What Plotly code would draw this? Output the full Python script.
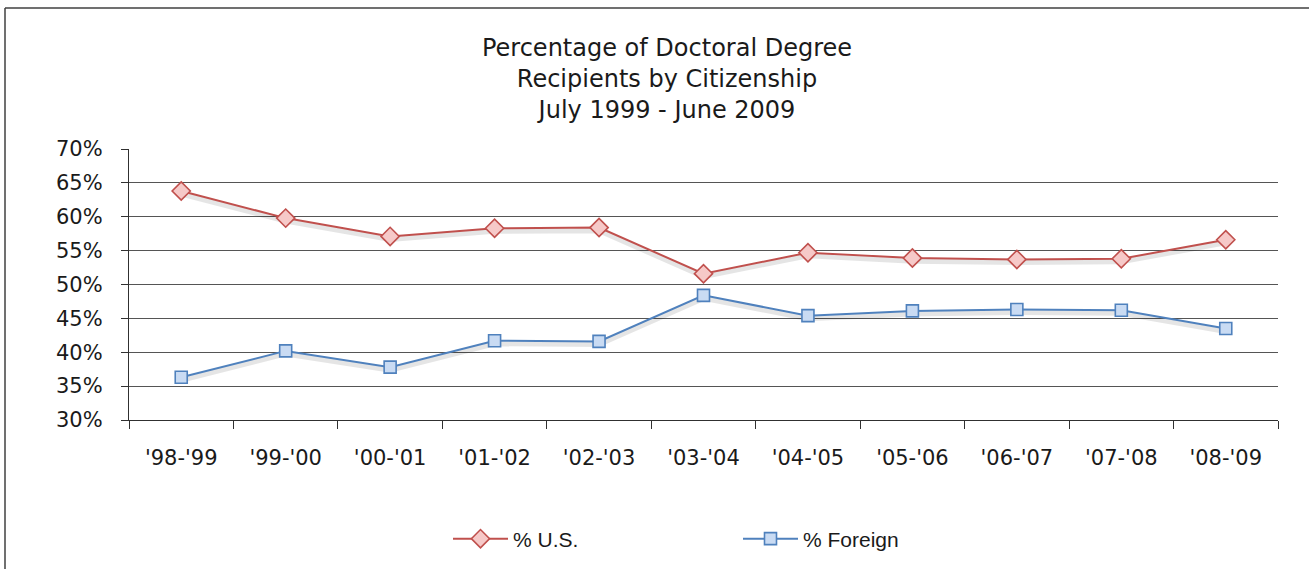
import plotly.graph_objects as go

years = ["'98-'99", "'99-'00", "'00-'01", "'01-'02", "'02-'03", "'03-'04",
         "'04-'05", "'05-'06", "'06-'07", "'07-'08", "'08-'09"]
pct_us = [63.8, 59.8, 57.1, 58.3, 58.4, 51.6, 54.7, 53.9, 53.7, 53.8, 56.6]
pct_foreign = [36.3, 40.2, 37.8, 41.7, 41.6, 48.4, 45.4, 46.1, 46.3, 46.2, 43.5]

y_ticks = [30, 35, 40, 45, 50, 55, 60, 65, 70]
y_tick_text = [f"{v}%" for v in y_ticks]

RED = "#C0504D"
RED_FILL = "#F6C9C8"
BLUE = "#4F81BD"
BLUE_FILL = "#C9DBF3"

W, H = 1309, 569
L, R, T, B = 129, 31, 149, 149
PW, PH = W - L - R, H - T - B

fig = go.Figure()

# soft drop shadows beneath each series
for vals in (pct_us, pct_foreign):
    fig.add_trace(go.Scatter(
        x=years, y=[v - 0.45 for v in vals], mode="lines",
        line=dict(color="rgba(0,0,0,0.10)", width=5),
        hoverinfo="skip", showlegend=False,
    ))

fig.add_trace(go.Scatter(
    x=years, y=pct_us, name="% U.S.", mode="lines+markers",
    line=dict(color=RED, width=2),
    marker=dict(symbol="diamond", size=14, color=RED_FILL,
                line=dict(color=RED, width=1.6)),
))
fig.add_trace(go.Scatter(
    x=years, y=pct_foreign, name="% Foreign", mode="lines+markers",
    line=dict(color=BLUE, width=2),
    marker=dict(symbol="square", size=12, color=BLUE_FILL,
                line=dict(color=BLUE, width=1.6)),
))

def px_x(px):
    return (px - L) / PW

def px_y(py):
    return (H - B - py) / PH

# outer chart frame (top and left edges)
frame = dict(color="#404040", width=1.5)
fig.add_shape(type="line", xref="paper", yref="paper",
              x0=px_x(5), x1=px_x(W + 10), y0=px_y(8), y1=px_y(8), line=frame)
fig.add_shape(type="line", xref="paper", yref="paper",
              x0=px_x(5), x1=px_x(5), y0=px_y(8), y1=px_y(H + 10), line=frame)

fig.update_layout(
    width=W, height=H,
    margin=dict(l=L, r=R, t=T, b=B, autoexpand=False),
    paper_bgcolor="white", plot_bgcolor="white",
    font=dict(family="DejaVu Sans", color="#1a1a1a"),
    title=dict(
        text="Percentage of Doctoral Degree<br>Recipients by Citizenship<br>July 1999 - June 2009",
        font=dict(family="DejaVu Sans", size=24, color="#1a1a1a"),
        x=667 / W, xanchor="center", xref="container",
        y=1 - 56 / H, yanchor="top", yref="container",
    ),
    xaxis=dict(
        type="category", tickson="boundaries",
        showline=True, linecolor="#303030", linewidth=1.2,
        ticks="outside", ticklen=8, tickcolor="#303030", tickwidth=1.2,
        tickfont=dict(family="DejaVu Sans", size=21, color="#1a1a1a"),
        ticklabelstandoff=19,
        showgrid=False, range=[-0.5, 10.5],
    ),
    yaxis=dict(
        range=[30, 70], tickvals=y_ticks, ticktext=y_tick_text,
        showline=True, linecolor="#303030", linewidth=1.2,
        ticks="outside", ticklen=7, tickcolor="#303030", tickwidth=1.2,
        tickfont=dict(family="DejaVu Sans", size=21, color="#1a1a1a"),
        ticklabelstandoff=14,
        showgrid=True, gridcolor="#555555", gridwidth=1.4,
        zeroline=False,
    ),
    legend=dict(
        orientation="h", x=px_x(448), xanchor="left",
        y=px_y(539), yanchor="middle",
        font=dict(family="Liberation Sans", size=21, color="#1a1a1a"),
        itemwidth=55,
        entrywidth=220, entrywidthmode="pixels",
        bgcolor="rgba(0,0,0,0)",
    ),
    showlegend=True,
)

fig.write_html("out.html")
